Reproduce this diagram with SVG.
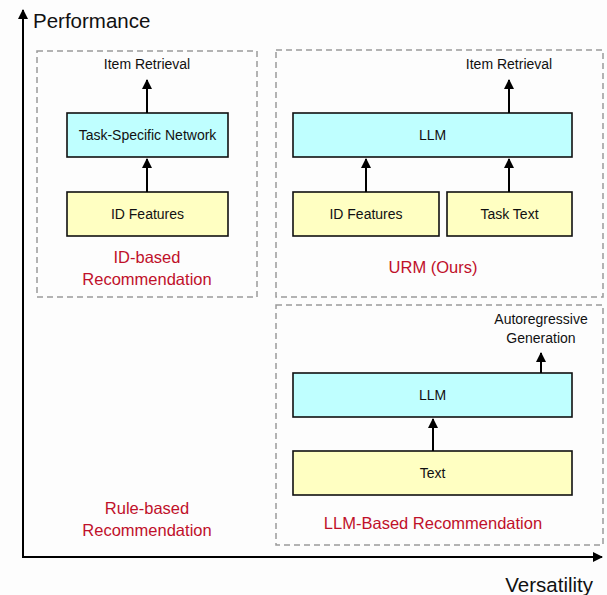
<svg xmlns="http://www.w3.org/2000/svg" width="607" height="595" viewBox="0 0 607 595">
<style>
text{font-family:"Liberation Sans","Noto Sans",Arial,sans-serif;fill:#111;text-anchor:middle}
.lbl{font-size:14px}
.red{font-size:16.5px;fill:#C0102A}
.ax{font-size:20.5px}
.dash{fill:none;stroke:#9a9a9a;stroke-width:1.5;stroke-dasharray:6 4}
.cyan{fill:#BFFFFF;stroke:#111;stroke-width:1.6}
.yel{fill:#FFFFC2;stroke:#111;stroke-width:1.6}
.con{stroke:#000;stroke-width:2;fill:none;marker-end:url(#ah)}
</style>
<defs>
<marker id="ah" viewBox="0 0 10 10" refX="9" refY="5" markerWidth="5.5" markerHeight="5" orient="auto" markerUnits="strokeWidth">
<path d="M0,0 L10,5 L0,10 z" fill="#000"/>
</marker>
<marker id="axh" viewBox="0 0 10 10" refX="9" refY="5" markerWidth="6" markerHeight="5" orient="auto" markerUnits="strokeWidth">
<path d="M0,0 L10,5 L0,10 z" fill="#000"/>
</marker>
</defs>
<rect width="607" height="595" fill="#fdfdfd"/>
<g id="axes">
<line x1="23" y1="557" x2="23" y2="10" stroke="#000" stroke-width="2" marker-end="url(#axh)"/>
<line x1="22" y1="557" x2="602" y2="557" stroke="#000" stroke-width="2" marker-end="url(#axh)"/>
<text class="ax" x="33" y="28" style="text-anchor:start">Performance</text>
<text class="ax" x="593" y="592" style="text-anchor:end">Versatility</text>
</g>
<g id="group-id">
<rect class="dash" x="37" y="51" width="220" height="246"/>
<text class="red" x="147" y="263">ID-based</text>
<text class="red" x="147" y="285">Recommendation</text>
</g>
<g id="group-urm">
<rect class="dash" x="276" y="50" width="327" height="247"/>
<text class="red" x="433" y="273">URM (Ours)</text>
</g>
<g id="group-llm">
<rect class="dash" x="276" y="305" width="327" height="240"/>
<text class="red" x="433" y="529">LLM-Based Recommendation</text>
</g>
<g id="rule-based">
<text class="red" x="147" y="514">Rule-based</text>
<text class="red" x="147" y="536">Recommendation</text>
</g>
<g id="n1-tsn"><rect class="cyan" x="67" y="113" width="161" height="44"/><text class="lbl" x="147.5" y="140">Task-Specific Network</text></g>
<g id="n1-id"><rect class="yel" x="67" y="192" width="161" height="44"/><text class="lbl" x="147.5" y="219">ID Features</text></g>
<g id="n1-out"><text class="lbl" x="147" y="69">Item Retrieval</text></g>
<g id="n2-llm"><rect class="cyan" x="293" y="113" width="279" height="44"/><text class="lbl" x="432.5" y="140">LLM</text></g>
<g id="n2-id"><rect class="yel" x="293" y="192" width="146" height="44"/><text class="lbl" x="366" y="219">ID Features</text></g>
<g id="n2-task"><rect class="yel" x="447" y="192" width="125" height="44"/><text class="lbl" x="509.5" y="219">Task Text</text></g>
<g id="n2-out"><text class="lbl" x="509" y="69">Item Retrieval</text></g>
<g id="n3-llm"><rect class="cyan" x="293" y="373" width="279" height="44"/><text class="lbl" x="432.5" y="400">LLM</text></g>
<g id="n3-text"><rect class="yel" x="293" y="451" width="279" height="44"/><text class="lbl" x="432.5" y="478">Text</text></g>
<g id="n3-out"><text class="lbl" x="541" y="324">Autoregressive</text><text class="lbl" x="541" y="343">Generation</text></g>
<g id="connectors">
<line class="con" x1="147" y1="113" x2="147" y2="80"/>
<line class="con" x1="147" y1="192" x2="147" y2="159"/>
<line class="con" x1="509" y1="113" x2="509" y2="80"/>
<line class="con" x1="366" y1="192" x2="366" y2="159"/>
<line class="con" x1="509" y1="192" x2="509" y2="159"/>
<line class="con" x1="433" y1="451" x2="433" y2="419"/>
<line class="con" x1="541" y1="373" x2="541" y2="353"/>
</g>
</svg>
